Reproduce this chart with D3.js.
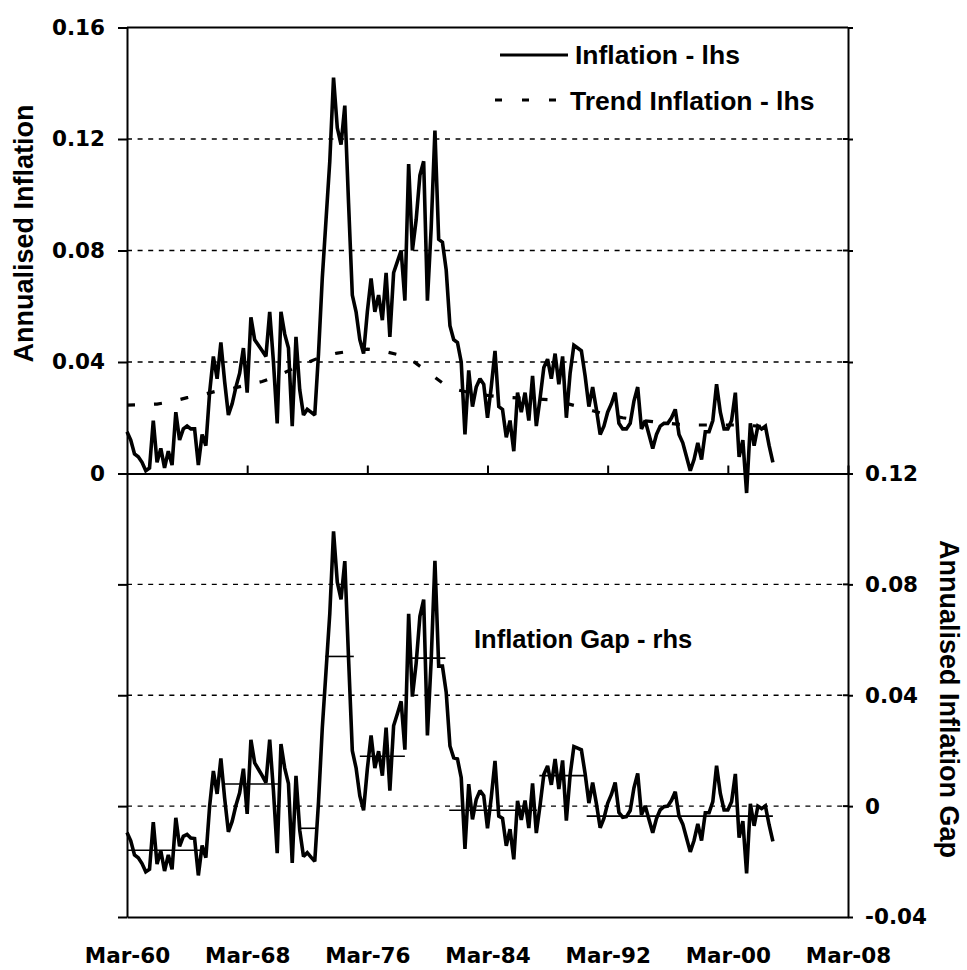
<!DOCTYPE html>
<html>
<head>
<meta charset="utf-8">
<script src="https://cdn.jsdelivr.net/npm/d3@7"></script>
<style>
  html, body { margin: 0; padding: 0; background: #fff; }
  svg { display: block; }
</style>
</head>
<body>
<svg id="chart" width="967" height="970"></svg>
<script>
// ---------------- DATA ----------------
// quarterly observations, first one at Mar-1960
const firstYear = 1960;
const inflation = [
  0.015, 0.012, 0.007, 0.006, 0.004, 0.001, 0.002, 0.019, 0.004, 0.009, 0.002, 0.008,
  0.003, 0.022, 0.012, 0.016, 0.017, 0.016, 0.016, 0.003, 0.014, 0.010, 0.029, 0.042,
  0.034, 0.047, 0.033, 0.021, 0.025, 0.031, 0.036, 0.045, 0.029, 0.056, 0.048, 0.046,
  0.044, 0.042, 0.058, 0.040, 0.018, 0.058, 0.050, 0.045, 0.017, 0.049, 0.030, 0.021,
  0.023, 0.022, 0.021, 0.043, 0.070, 0.091, 0.112, 0.142, 0.124, 0.118, 0.132, 0.097,
  0.064, 0.058, 0.048, 0.043, 0.058, 0.070, 0.058, 0.064, 0.055, 0.072, 0.049, 0.072,
  0.076, 0.080, 0.062, 0.111, 0.080, 0.091, 0.107, 0.112, 0.062, 0.088, 0.123, 0.084,
  0.083, 0.073, 0.053, 0.048, 0.047, 0.040, 0.014, 0.037, 0.024, 0.031, 0.034, 0.032,
  0.020, 0.031, 0.044, 0.024, 0.023, 0.013, 0.019, 0.008, 0.029, 0.022, 0.029, 0.019,
  0.035, 0.017, 0.027, 0.038, 0.041, 0.034, 0.043, 0.032, 0.042, 0.020, 0.036, 0.046,
  0.045, 0.044, 0.035, 0.024, 0.031, 0.023, 0.014, 0.017, 0.022, 0.025, 0.029, 0.018,
  0.016, 0.016, 0.018, 0.026, 0.031, 0.016, 0.019, 0.014, 0.009, 0.014, 0.017, 0.018,
  0.018, 0.020, 0.023, 0.014, 0.011, 0.006, 0.001, 0.005, 0.011, 0.005, 0.015, 0.015,
  0.019, 0.032, 0.022, 0.016, 0.016, 0.019, 0.029, 0.006, 0.012, -0.007, 0.018, 0.010,
  0.017, 0.016, 0.017, 0.010, 0.004
];
// trend inflation, one reading per year (March of each year)
const trendYears = [
  1960, 1961, 1962, 1963, 1964, 1965, 1966, 1967, 1968, 1969, 1970, 1971, 1972, 1973, 1974,
  1975, 1976, 1977, 1978, 1979, 1980, 1981, 1982, 1983, 1984, 1985, 1986, 1987, 1988, 1989,
  1990, 1991, 1992, 1993, 1994, 1995, 1996, 1997, 1998, 1999, 2000, 2001, 2002, 2003
];
const trend = [
  0.0245, 0.0247, 0.0249, 0.0258, 0.0272, 0.0282, 0.0296, 0.0305, 0.0318, 0.0330, 0.0350,
  0.0375, 0.0398, 0.0420, 0.0432, 0.0440, 0.0446, 0.0440, 0.0427, 0.0405, 0.0365, 0.0325,
  0.0300, 0.0288, 0.0280, 0.0274, 0.0271, 0.0268, 0.0265, 0.0255, 0.0241, 0.0225, 0.0210,
  0.0200, 0.0192, 0.0186, 0.0180, 0.0175, 0.0174, 0.0174, 0.0174, 0.0174, 0.0170, 0.0167
];
// inflation gap (bottom panel, right-hand scale), quarterly
const gap = [
  -0.0095, -0.0125, -0.0176, -0.0186, -0.0207, -0.0237, -0.0228, -0.0058, -0.0209, -0.0161,
  -0.0234, -0.0176, -0.0228, -0.0042, -0.0145, -0.0109, -0.0102, -0.0115, -0.0117, -0.0250,
  -0.0142, -0.0186, -0.0001, 0.0127, 0.0044, 0.0172, 0.0029, -0.0093, -0.0055, 0.0002,
  0.0048, 0.0135, -0.0028, 0.0239, 0.0156, 0.0133, 0.0110, 0.0085, 0.0240, 0.0055,
  -0.0170, 0.0224, 0.0137, 0.0081, -0.0205, 0.0109, -0.0087, -0.0182, -0.0168, -0.0184,
  -0.0199, 0.0015, 0.0280, 0.0487, 0.0694, 0.0991, 0.0808, 0.0746, 0.0884, 0.0532,
  0.0200, 0.0138, 0.0037, -0.0015, 0.0134, 0.0255, 0.0137, 0.0198, 0.0110, 0.0283,
  0.0056, 0.0290, 0.0333, 0.0378, 0.0204, 0.0694, 0.0395, 0.0515, 0.0685, 0.0745,
  0.0255, 0.0525, 0.0885, 0.0505, 0.0505, 0.0411, 0.0217, 0.0174, 0.0170, 0.0103,
  -0.0154, 0.0079, -0.0048, 0.0024, 0.0056, 0.0038, -0.0080, 0.0031, 0.0163, -0.0036,
  -0.0044, -0.0143, -0.0083, -0.0192, 0.0019, -0.0050, 0.0020, -0.0079, 0.0082, -0.0097,
  0.0003, 0.0114, 0.0145, 0.0077, 0.0170, 0.0062, 0.0165, -0.0052, 0.0112, 0.0215,
  0.0209, 0.0203, 0.0117, 0.0011, 0.0085, 0.0009, -0.0078, -0.0044, 0.0010, 0.0042,
  0.0085, -0.0023, -0.0040, -0.0038, -0.0016, 0.0066, 0.0118, -0.0031, 0.0001, -0.0048,
  -0.0096, -0.0045, -0.0013, -0.0002, 0.0000, 0.0021, 0.0052, -0.0036, -0.0065, -0.0115,
  -0.0165, -0.0124, -0.0064, -0.0124, -0.0024, -0.0024, 0.0016, 0.0146, 0.0046, -0.0014,
  -0.0014, 0.0016, 0.0116, -0.0114, -0.0054, -0.0243, 0.0008, -0.0071, 0.0000, -0.0009,
  0.0001, -0.0068, -0.0127
];
// regime means of the gap (thin horizontal segments, bottom panel)
const regimeStart = [1960.0, 1966.4, 1971.4, 1973.2, 1975.5, 1978.85, 1981.45, 1987.45, 1990.6];
const regimeEnd   = [1965.2, 1970.1, 1972.7, 1975.1, 1978.5, 1981.2, 1987.3, 1990.5, 2003.0];
const regimeMean  = [-0.0159, 0.0080, -0.0080, 0.0540, 0.0180, 0.0534, -0.0015, 0.0110, -0.0036];

const xTickYears  = [1960, 1968, 1976, 1984, 1992, 2000, 2008];
const xTickLabels = ["Mar-60", "Mar-68", "Mar-76", "Mar-84", "Mar-92", "Mar-00", "Mar-08"];
const leftTicks   = [0, 0.04, 0.08, 0.12, 0.16];
const leftLabels  = ["0", "0.04", "0.08", "0.12", "0.16"];
const rightTicks  = [-0.04, 0, 0.04, 0.08, 0.12];
const rightLabels = ["-0.04", "0", "0.04", "0.08", "0.12"];
const topGrid     = [0.04, 0.08, 0.12];
const bottomGrid  = [0, 0.04, 0.08];

const seriesNames = ["Inflation - lhs", "Trend Inflation - lhs", "Inflation Gap - rhs"];
const axisTitles  = ["Annualised Inflation", "Annualised Inflation Gap"];

// ---------------- LAYOUT ----------------
const L = 127, R = 848, T = 27.5, M = 473.5, B = 917;
const tickFont = "'DejaVu Sans', sans-serif";
const textFont = "'Liberation Sans', Arial, sans-serif";

const svg = d3.select("#chart");
svg.append("rect").attr("width", 967).attr("height", 970).attr("fill", "#fff");

const x = d3.scaleLinear().domain([1960, 2008]).range([L, R]);
const yTop = d3.scaleLinear().domain([0, 0.16]).range([M, T]);
const yBot = d3.scaleLinear().domain([-0.04, 0.12]).range([B, M]);

const quarterX = i => firstYear + i / 4;

// gridlines
const grid = svg.append("g").attr("stroke", "#000").attr("stroke-width", 1.3)
  .attr("stroke-dasharray", "5,5.6");
grid.selectAll("line.gt").data(topGrid).join("line").attr("class", "gt")
  .attr("x1", L).attr("x2", R).attr("y1", d => yTop(d)).attr("y2", d => yTop(d));
grid.selectAll("line.gb").data(bottomGrid).join("line").attr("class", "gb")
  .attr("x1", L).attr("x2", R).attr("y1", d => yBot(d)).attr("y2", d => yBot(d));

// frame top line
svg.append("line").attr("x1", L).attr("x2", R).attr("y1", yTop(0.16)).attr("y2", yTop(0.16))
  .attr("stroke", "#000").attr("stroke-width", 2);

function styleAxis(g) {
  g.select(".domain").attr("stroke", "#000").attr("stroke-width", 2);
  g.selectAll(".tick line").attr("stroke", "#000").attr("stroke-width", 2);
  g.selectAll(".tick text").attr("fill", "#000").attr("font-family", tickFont)
    .attr("font-weight", "bold").attr("font-size", 21.5);
}

// top left axis
svg.append("g").attr("transform", `translate(${L},0)`)
  .call(d3.axisLeft(yTop).tickValues(leftTicks).tickSize(9).tickSizeOuter(0).tickPadding(13)
    .tickFormat((d, i) => leftLabels[i]))
  .call(styleAxis);
// bottom left axis (no labels)
svg.append("g").attr("transform", `translate(${L},0)`)
  .call(d3.axisLeft(yBot).tickValues([-0.04, 0, 0.04, 0.08]).tickSize(9).tickSizeOuter(0)
    .tickFormat(""))
  .call(styleAxis);
// top right axis (no labels) - crossing ticks
svg.append("g").attr("transform", `translate(${R},0)`)
  .call(d3.axisRight(yTop).tickValues([0.04, 0.08, 0.12, 0.16]).tickSize(5).tickSizeOuter(0)
    .tickFormat(""))
  .call(styleAxis);
// bottom right axis with labels
svg.append("g").attr("transform", `translate(${R},0)`)
  .call(d3.axisRight(yBot).tickValues(rightTicks).tickSize(5).tickSizeOuter(0).tickPadding(12)
    .tickFormat((d, i) => rightLabels[i]))
  .call(styleAxis);
// inner halves of crossing ticks on right axis
const innerTicks = svg.append("g").attr("stroke", "#000").attr("stroke-width", 2);
innerTicks.selectAll("line.it").data(topGrid).join("line").attr("class", "it")
  .attr("x1", R - 5).attr("x2", R).attr("y1", d => yTop(d)).attr("y2", d => yTop(d));
innerTicks.selectAll("line.ib").data(bottomGrid).join("line").attr("class", "ib")
  .attr("x1", R - 5).attr("x2", R).attr("y1", d => yBot(d)).attr("y2", d => yBot(d));

// middle x axis (top panel bottom), ticks pointing up, no labels
svg.append("g").attr("transform", `translate(0,${M})`)
  .call(d3.axisTop(x).tickValues(xTickYears.slice(1)).tickSize(8).tickSizeOuter(0).tickFormat(""))
  .call(styleAxis);
// bottom x axis with labels
svg.append("g").attr("transform", `translate(0,${B})`)
  .call(d3.axisBottom(x).tickValues(xTickYears).tickSize(0).tickSizeOuter(0).tickPadding(31)
    .tickFormat((d, i) => xTickLabels[i]))
  .call(styleAxis);

// trend (dashed)
const trendLine = d3.line().x((d, i) => x(trendYears[i])).y(d => yTop(d));
svg.append("path").datum(trend).attr("d", trendLine)
  .attr("fill", "none").attr("stroke", "#000").attr("stroke-width", 3.2)
  .attr("stroke-dasharray", "8,19");

// inflation (solid)
const inflLine = d3.line().x((d, i) => x(quarterX(i))).y(d => yTop(d));
svg.append("path").datum(inflation).attr("d", inflLine)
  .attr("fill", "none").attr("stroke", "#000").attr("stroke-width", 3.6)
  .attr("stroke-linejoin", "miter").attr("stroke-miterlimit", 2);

// regime means (thin)
svg.append("g").selectAll("line").data(regimeMean).join("line")
  .attr("x1", (d, i) => x(regimeStart[i])).attr("x2", (d, i) => x(regimeEnd[i]))
  .attr("y1", d => yBot(d)).attr("y2", d => yBot(d))
  .attr("stroke", "#000").attr("stroke-width", 1.6);

// gap (solid)
const gapLine = d3.line().x((d, i) => x(quarterX(i))).y(d => yBot(d));
svg.append("path").datum(gap).attr("d", gapLine)
  .attr("fill", "none").attr("stroke", "#000").attr("stroke-width", 3.6)
  .attr("stroke-linejoin", "miter").attr("stroke-miterlimit", 2);

// legend
const leg = svg.append("g").attr("font-family", textFont).attr("font-weight", "bold")
  .attr("font-size", 26.5).attr("fill", "#000");
leg.append("line").attr("x1", 500).attr("x2", 568).attr("y1", 55).attr("y2", 55)
  .attr("stroke", "#000").attr("stroke-width", 3);
leg.append("text").attr("x", 575).attr("y", 64).text(seriesNames[0]);
leg.append("line").attr("x1", 495).attr("x2", 560).attr("y1", 100).attr("y2", 100)
  .attr("stroke", "#000").attr("stroke-width", 3).attr("stroke-dasharray", "7,20");
leg.append("text").attr("x", 570).attr("y", 110).text(seriesNames[1]);
leg.append("text").attr("x", 474).attr("y", 648).attr("font-size", 25.5).text(seriesNames[2]);

// axis titles
svg.append("text").attr("transform", "translate(33,233.5) rotate(-90)")
  .attr("text-anchor", "middle").attr("font-family", textFont).attr("font-weight", "bold")
  .attr("font-size", 27).attr("fill", "#000").text(axisTitles[0]);
svg.append("text").attr("transform", "translate(940,699) rotate(90)")
  .attr("text-anchor", "middle").attr("font-family", textFont).attr("font-weight", "bold")
  .attr("font-size", 27).attr("fill", "#000").text(axisTitles[1]);
</script>
</body>
</html>
